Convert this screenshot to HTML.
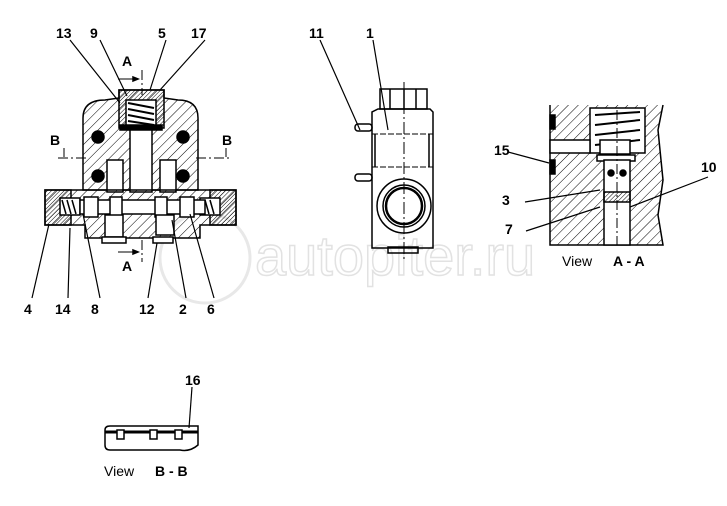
<!DOCTYPE html>
<html><head><style>html,body{margin:0;padding:0;background:#fff}svg{display:block}text{font-family:"Liberation Sans",sans-serif;font-weight:bold;font-size:14px;fill:#000}</style></head><body>
<svg width="727" height="506" viewBox="0 0 727 506" xmlns="http://www.w3.org/2000/svg">
<defs><pattern id="h" width="7" height="7" patternUnits="userSpaceOnUse" patternTransform="rotate(45)"><line x1="0" y1="0" x2="0" y2="7" stroke="#000" stroke-width="1"/></pattern>
<pattern id="hd" width="3" height="3" patternUnits="userSpaceOnUse" patternTransform="rotate(45)"><line x1="0" y1="0" x2="0" y2="3" stroke="#000" stroke-width="1"/></pattern></defs>
<g fill="none" stroke="#000" stroke-width="1.5">
<text x="255" y="275" style="font-size:56px;font-weight:normal;fill:none;stroke:#e2e2e2;stroke-width:1.5">autopiter.ru</text>
<circle cx="205" cy="258" r="45" stroke="#e8e8e8" stroke-width="3"/>
<path d="M83 190 L83 118 Q83 100 105 100 L119 98 L119 90 L164 90 L164 98 L178 100 Q198 100 198 118 L198 190 Z" fill="url(#h)"/>
<rect x="119" y="90" width="45" height="38" fill="url(#hd)"/>
<rect x="126" y="100" width="30" height="26" fill="#fff"/>
<path d="M128 103 L154 108 M128 109 L154 114 M128 115 L154 120 M128 121 L154 125" stroke-width="2"/>
<rect x="120" y="125" width="42" height="5" fill="#000"/>
<rect x="130" y="130" width="22" height="62" fill="#fff"/>
<rect x="107" y="160" width="16" height="32" fill="#fff"/><rect x="160" y="160" width="16" height="32" fill="#fff"/>
<circle cx="98" cy="137" r="6" fill="#000"/><circle cx="183" cy="137" r="6" fill="#000"/>
<circle cx="98" cy="176" r="6" fill="#000"/><circle cx="183" cy="176" r="6" fill="#000"/>
<path d="M45 190 L236 190 L236 225 L200 225 L200 238 L85 238 L85 225 L45 225 Z" fill="url(#h)"/>
<rect x="45" y="190" width="26" height="35" fill="url(#hd)"/><rect x="210" y="190" width="26" height="35" fill="url(#hd)"/>
<rect x="60" y="198" width="20" height="17" fill="#fff"/><rect x="200" y="198" width="20" height="17" fill="#fff"/>
<path d="M62 200 L66 214 M67 200 L71 214 M72 200 L76 214 M205 200 L209 214 M210 200 L214 214" />
<rect x="80" y="200" width="125" height="14" fill="#fff"/>
<rect x="84" y="197" width="14" height="20" fill="#fff"/><rect x="110" y="197" width="12" height="20" fill="#fff"/><rect x="155" y="197" width="12" height="20" fill="#fff"/><rect x="180" y="197" width="14" height="20" fill="#fff"/>
<rect x="105" y="215" width="18" height="22" fill="#fff"/><rect x="156" y="215" width="18" height="20" fill="#fff"/>
<rect x="102" y="237" width="24" height="6" fill="#fff"/><rect x="153" y="237" width="20" height="6" fill="#fff"/>
<path d="M142 70 V95 M142 240 V262" stroke-dasharray="10 3 2 3" stroke-width="1"/>
<path d="M118 79 H138 M118 252 H138" stroke-width="1"/><path d="M138 79 l-5 -2 v4 z M138 252 l-5 -2 v4z" fill="#000"/>
<path d="M58 158 H86 M196 158 H232" stroke-dasharray="10 3 2 3" stroke-width="1"/>
<path d="M64 148 V157 M226 148 V157" stroke-width="1"/>
<g stroke-width="1.2">
<path d="M70 40 L120 103 M100 40 L127 96 M166 40 L150 90 M205 40 L160 90 M32 298 L49 224 M68 298 L70 228 M100 298 L83 214 M148 298 L157 243 M186 298 L172 220 M214 298 L190 214"/>
<path d="M320 40 L360 130 M373 40 L388 130 M508 152 L549 163 M708 177 L617 212 M525 202 L600 190 M526 231 L600 207"/>
</g>
<rect x="380" y="89" width="47" height="20"/>
<path d="M390 89 V109 M404 89 V109 M416 89 V109"/>
<path d="M372 248 L372 112 L378 109 L430 109 L433 112 L433 248 Z"/>
<path d="M372 134 H433 M372 167 H433" stroke-dasharray="6 2" stroke-width="1"/>
<path d="M375 134 V167 M429 134 V167"/>
<circle cx="404" cy="206" r="27"/><circle cx="404" cy="206" r="21"/><circle cx="404" cy="206" r="18" stroke-width="2.5"/>
<path d="M404 82 V262" stroke-dasharray="12 3 2 3" stroke-width="1"/>
<rect x="355" y="124" width="17" height="7" rx="3"/><rect x="355" y="174" width="17" height="7" rx="3"/>
<rect x="388" y="247" width="30" height="6"/>
<path d="M550 105 L550 245 L663 245 L658 215 L663 180 L658 130 L663 105" fill="url(#h)"/>
<rect x="590" y="108" width="55" height="45" fill="#fff"/>
<rect x="550" y="140" width="40" height="13" fill="#fff"/>
<path d="M595 115 L640 112 M595 125 L640 120 M595 135 L640 130 M595 145 L640 140" stroke-width="2"/>
<rect x="600" y="140" width="30" height="14" fill="#fff"/>
<rect x="597" y="155" width="38" height="6" fill="#fff"/>
<rect x="604" y="160" width="26" height="85" fill="#fff"/>
<rect x="604" y="192" width="26" height="10" fill="url(#hd)"/>
<circle cx="611" cy="173" r="3" fill="#000"/><circle cx="623" cy="173" r="3" fill="#000"/>
<rect x="550" y="115" width="5" height="14" fill="#000"/><rect x="550" y="160" width="5" height="14" fill="#000"/>
<path d="M617 110 V245" stroke-dasharray="10 3 2 3" stroke-width="1"/>
<path d="M105 430 Q105 426 110 426 L198 426 L198 445 Q190 452 180 450 L110 450 Q105 450 105 445 Z"/>
<path d="M105 432 H198" stroke-width="3"/>
<rect x="117" y="430" width="7" height="9" fill="#fff"/><rect x="150" y="430" width="7" height="9" fill="#fff"/><rect x="175" y="430" width="7" height="9" fill="#fff"/>
<path d="M192 387 L189 428" stroke-width="1.2"/>
</g>
<text x="56" y="38">13</text><text x="90" y="38">9</text><text x="158" y="38">5</text><text x="191" y="38">17</text>
<text x="122" y="66">A</text><text x="122" y="271">A</text><text x="50" y="145">B</text><text x="222" y="145">B</text>
<text x="24" y="314">4</text><text x="55" y="314">14</text><text x="91" y="314">8</text><text x="139" y="314">12</text><text x="179" y="314">2</text><text x="207" y="314">6</text>
<text x="309" y="38">11</text><text x="366" y="38">1</text>
<text x="494" y="155">15</text><text x="701" y="172">10</text><text x="502" y="205">3</text><text x="505" y="234">7</text>
<text x="562" y="266" style="font-weight:normal">View</text><text x="613" y="266">A - A</text>
<text x="185" y="385">16</text>
<text x="104" y="476" style="font-weight:normal">View</text><text x="155" y="476">B - B</text>
</svg></body></html>
